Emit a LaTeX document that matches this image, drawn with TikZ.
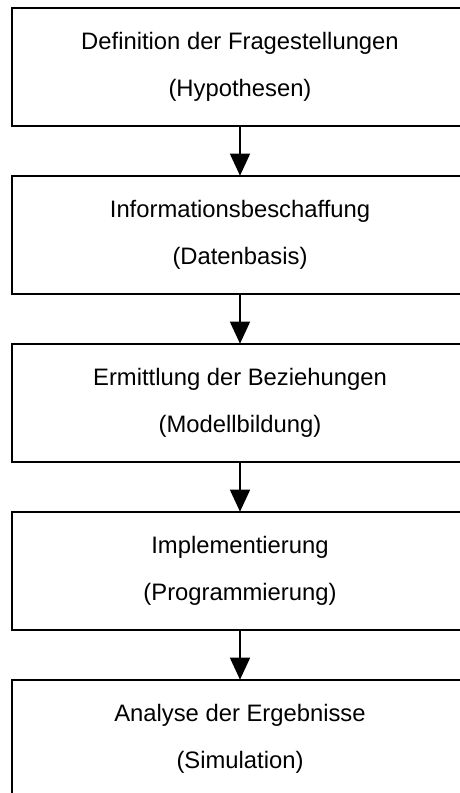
\documentclass[tikz,border=0pt]{standalone}
\usepackage{fontspec}
\setmainfont{Liberation Sans}
\usetikzlibrary{arrows.meta}
\tikzset{
  stagebox/.style={draw=black, line width=1.6pt, rectangle, minimum width=456pt,
    minimum height=118pt, inner sep=0pt, align=center,
    font=\fontsize{23.8}{47}\selectfont},
  flowarrow/.style={draw=black, line width=1.5pt,
    -{Triangle[width=20pt,length=22pt]}, shorten >=-0.5pt}
}
\begin{document}
\begin{tikzpicture}[x=1pt,y=-1pt]
  \useasboundingbox (0,0) rectangle (460,793);
  \fill[white] (0,0) rectangle (460,793);
  % the stage boxes run past the right and bottom edges of the page
  \clip (0,0) rectangle (460,793);
  \node[stagebox] (s1) at (240,67)  {Definition der Fragestellungen\\(Hypothesen)};
  \node[stagebox] (s2) at (240,235) {Informationsbeschaffung\\(Datenbasis)};
  \node[stagebox] (s3) at (240,403) {Ermittlung der Beziehungen\\(Modellbildung)};
  \node[stagebox] (s4) at (240,571) {Implementierung\\(Programmierung)};
  \node[stagebox] (s5) at (240,739) {Analyse der Ergebnisse\\(Simulation)};
  \draw[flowarrow] (s1.south) -- (s2.north);
  \draw[flowarrow] (s2.south) -- (s3.north);
  \draw[flowarrow] (s3.south) -- (s4.north);
  \draw[flowarrow] (s4.south) -- (s5.north);
\end{tikzpicture}
\end{document}
